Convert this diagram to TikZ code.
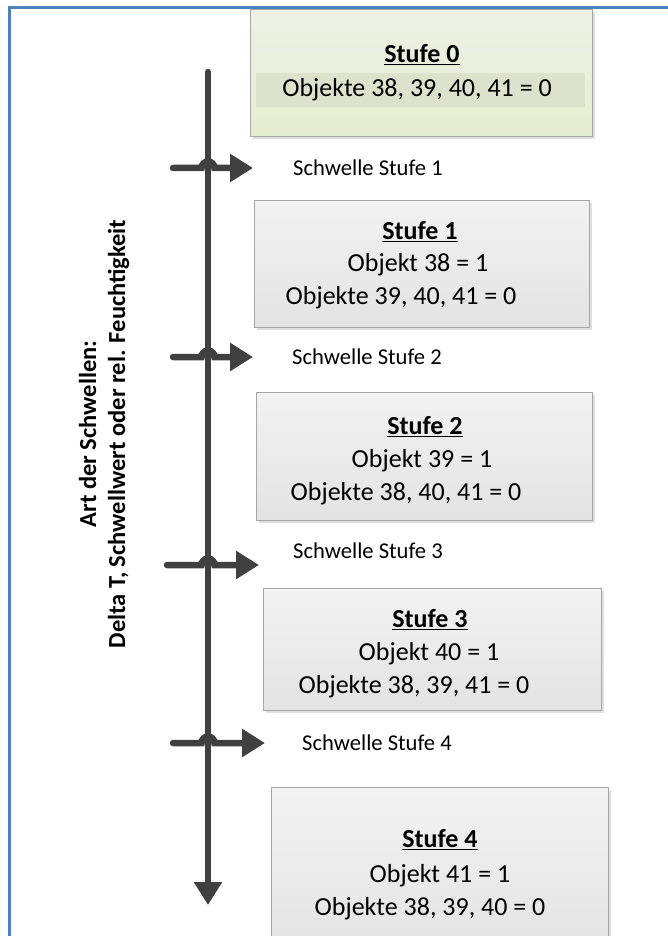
\documentclass[tikz,border=0pt]{standalone}
\usepackage{fontspec}
\setmainfont{Carlito}
\usetikzlibrary{arrows.meta,shadows,calc}
\definecolor{pfeilgrau}{HTML}{404040}
\definecolor{rahmenblau}{HTML}{4F81BD}
\definecolor{kastenrand}{HTML}{A6A6A6}
\definecolor{grauoben}{HTML}{F2F2F2}
\definecolor{grauunten}{HTML}{E3E3E3}
\definecolor{gruenoben}{HTML}{EEF0E6}
\definecolor{gruenunten}{HTML}{E4EED0}
\definecolor{gruenband}{HTML}{DCE3CD}
\tikzset{
    stufe/.style={draw=kastenrand, line width=0.8pt, anchor=north west, inner sep=0pt,
      top color=grauoben, bottom color=grauunten,
      drop shadow={shadow xshift=2.5pt, shadow yshift=-2.5pt, opacity=0.25, fill=black!50}},
    stufenull/.style={stufe, top color=gruenoben, bottom color=gruenunten},
    band/.style={fill=gruenband, anchor=north west, inner sep=0pt},
    titel/.style={font=\fontsize{26}{30}\selectfont\bfseries, inner sep=0pt},
    zeile/.style={font=\fontsize{26}{30}\selectfont, inner sep=0pt},
    schwelle/.style={font=\fontsize{22.6}{26}\selectfont, anchor=west, inner sep=0pt},
    pfeil/.style={draw=pfeilgrau, line width=6.5pt, line cap=round,
      -{Triangle[length=23pt,width=27pt]}, color=pfeilgrau},
  }
\begin{document}
\begin{tikzpicture}[x=1pt,y=1pt]
  \useasboundingbox (0,0) rectangle (668,-936);
  \clip (0,0) rectangle (668,-936);
  %Stufe 0
  \node[stufenull, minimum width=342pt, minimum height=127pt] (s0) at (250,-9) {};
  \node[band, minimum width=329pt, minimum height=34pt] (s0band) at (256,-73) {};
  \node[titel] (s0titel) at (422,-55) {\underline{Stufe 0}};
  \node[zeile] (s0z1) at (417,-90) {Objekte 38, 39, 40, 41 = 0};
  %Stufe 1
  \node[stufe, minimum width=335pt, minimum height=127pt] (s1) at (254,-200) {};
  \node[titel] (s1titel) at (420,-232) {\underline{Stufe 1}};
  \node[zeile] (s1z1) at (418,-265) {Objekt 38 = 1};
  \node[zeile] (s1z2) at (401,-298) {Objekte 39, 40, 41 = 0};
  %Stufe 2
  \node[stufe, minimum width=336pt, minimum height=128pt] (s2) at (256,-392) {};
  \node[titel] (s2titel) at (425,-427) {\underline{Stufe 2}};
  \node[zeile] (s2z1) at (422,-461) {Objekt 39 = 1};
  \node[zeile] (s2z2) at (406,-494) {Objekte 38, 40, 41 = 0};
  %Stufe 3
  \node[stufe, minimum width=338pt, minimum height=122pt] (s3) at (263,-588) {};
  \node[titel] (s3titel) at (430,-620) {\underline{Stufe 3}};
  \node[zeile] (s3z1) at (429,-654) {Objekt 40 = 1};
  \node[zeile] (s3z2) at (414,-687) {Objekte 38, 39, 41 = 0};
  %Stufe 4
  \node[stufe, minimum width=337pt, minimum height=170pt] (s4) at (271,-787) {};
  \node[titel] (s4titel) at (440,-840) {\underline{Stufe 4}};
  \node[zeile] (s4z1) at (440,-876) {Objekt 41 = 1};
  \node[zeile] (s4z2) at (430,-909) {Objekte 38, 39, 40 = 0};
  %Rahmen
  \draw[rahmenblau, line width=2.5pt] (9.5,-940) -- (9.5,-7.5) -- (670,-7.5);
  %Achse
  \coordinate (achseoben) at (208,-72);
  \coordinate (achseunten) at (208,-905);
  \draw[pfeil] (achseoben) -- (achseunten);
  \node[font=\fontsize{24.5}{29}\selectfont\bfseries, align=center, rotate=90, inner sep=0pt] (art) at (104,-434)
    {Art der Schwellen:\\Delta T, Schwellwert oder rel. Feuchtigkeit};
  %Schwellen
  \coordinate (k1) at (208,-168);
  \coordinate (h1) at (173,-168);
  \coordinate (p1) at (253,-168);
  \draw[pfeil] (h1) -- ([xshift=-6.5pt]k1) arc[start angle=180, end angle=0, radius=6.5pt] -- (p1);
  \node[schwelle] (l1) at (293,-168) {Schwelle Stufe 1};
  \coordinate (k2) at (208,-357);
  \coordinate (h2) at (173,-357);
  \coordinate (p2) at (253,-357);
  \draw[pfeil] (h2) -- ([xshift=-6.5pt]k2) arc[start angle=180, end angle=0, radius=6.5pt] -- (p2);
  \node[schwelle] (l2) at (292,-357) {Schwelle Stufe 2};
  \coordinate (k3) at (208,-565);
  \coordinate (h3) at (167,-565);
  \coordinate (p3) at (259,-565);
  \draw[pfeil] (h3) -- ([xshift=-6.5pt]k3) arc[start angle=180, end angle=0, radius=6.5pt] -- (p3);
  \node[schwelle] (l3) at (293,-551) {Schwelle Stufe 3};
  \coordinate (k4) at (208,-743);
  \coordinate (h4) at (173,-743);
  \coordinate (p4) at (265,-743);
  \draw[pfeil] (h4) -- ([xshift=-6.5pt]k4) arc[start angle=180, end angle=0, radius=6.5pt] -- (p4);
  \node[schwelle] (l4) at (302,-743) {Schwelle Stufe 4};
\end{tikzpicture}
\end{document}
